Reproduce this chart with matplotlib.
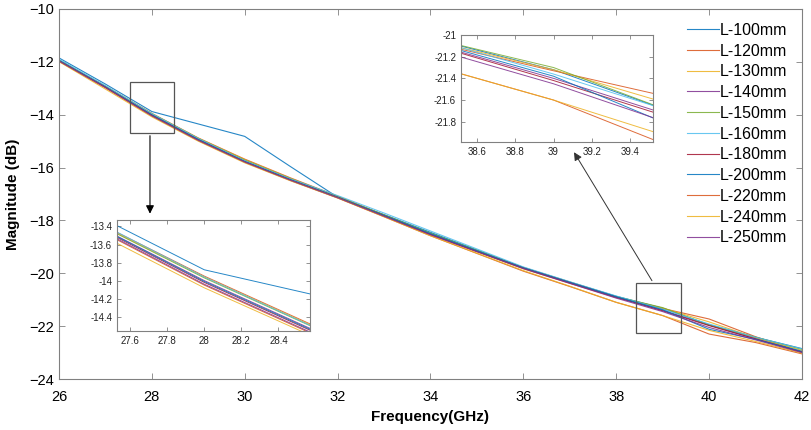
import numpy as np
import matplotlib
matplotlib.use('Agg')
import matplotlib.pyplot as plt
from matplotlib.patches import Rectangle

plt.rcParams['font.family'] = ['Liberation Sans', 'DejaVu Sans']

# ------------------------------------------------------------------
# Data (magnitude in dB, sampled every 1 GHz)
# ------------------------------------------------------------------
freq = [26, 27, 28, 29, 30, 31, 32, 33, 34, 35, 36, 37, 38, 39, 40, 41, 42]

labels = ['L-100mm', 'L-120mm', 'L-130mm', 'L-140mm', 'L-150mm', 'L-160mm',
          'L-180mm', 'L-200mm', 'L-220mm', 'L-240mm', 'L-250mm']

l100 = [-11.85, -12.84, -13.88, -14.35, -14.82, -15.98, -17.12, -17.78, -18.45,
        -19.12, -19.78, -20.33, -20.87, -21.32, -21.95, -22.42, -22.85]
l120 = [-11.93, -12.92, -13.95, -14.88, -15.68, -16.40, -17.08, -17.80, -18.52,
        -19.18, -19.83, -20.38, -20.92, -21.33, -21.73, -22.40, -22.98]
l130 = [-11.94, -12.93, -13.96, -14.89, -15.70, -16.42, -17.10, -17.82, -18.53,
        -19.18, -19.82, -20.36, -20.90, -21.32, -21.84, -22.44, -22.92]
l140 = [-11.95, -12.95, -14.00, -14.93, -15.76, -16.46, -17.12, -17.82, -18.52,
        -19.16, -19.80, -20.36, -20.90, -21.40, -21.96, -22.48, -22.98]
l150 = [-11.93, -12.93, -13.97, -14.90, -15.72, -16.43, -17.10, -17.79, -18.48,
        -19.13, -19.78, -20.33, -20.88, -21.30, -21.96, -22.42, -22.88]
l160 = [-11.90, -12.90, -13.96, -14.90, -15.74, -16.44, -17.06, -17.72, -18.40,
        -19.08, -19.76, -20.32, -20.86, -21.36, -21.92, -22.42, -22.86]
l180 = [-11.96, -12.96, -14.02, -14.95, -15.78, -16.48, -17.13, -17.83, -18.53,
        -19.17, -19.80, -20.35, -20.90, -21.42, -21.98, -22.48, -22.98]
l200 = [-11.95, -12.95, -14.01, -14.94, -15.77, -16.47, -17.12, -17.81, -18.50,
        -19.15, -19.80, -20.35, -20.89, -21.38, -22.12, -22.50, -22.95]
l220 = [-11.98, -12.98, -14.05, -14.98, -15.80, -16.50, -17.15, -17.86, -18.58,
        -19.25, -19.92, -20.50, -21.10, -21.60, -22.30, -22.62, -23.05]
l240 = [-11.99, -13.03, -14.08, -15.00, -15.82, -16.51, -17.15, -17.86, -18.58,
        -19.24, -19.90, -20.49, -21.10, -21.60, -22.16, -22.58, -23.02]
l250 = [-11.97, -12.97, -14.04, -14.97, -15.79, -16.49, -17.14, -17.84, -18.54,
        -19.18, -19.82, -20.38, -20.94, -21.45, -22.05, -22.52, -23.00]

series = [l100, l120, l130, l140, l150, l160, l180, l200, l220, l240, l250]

# MATLAB default colour order (repeats after 7)
colors = ['#0072BD', '#D95319', '#EDB120', '#7E2F8E', '#77AC30', '#4DBEEE',
          '#A2142F', '#0072BD', '#D95319', '#EDB120', '#7E2F8E']

# zoom windows
zoom1_x = (27.53, 28.57)
zoom1_y = (-14.56, -13.33)
zoom2_x = (38.515, 39.52)
zoom2_y = (-21.99, -21.0)

SPINE = '#808080'


def style_axes(ax, size):
    for s in ax.spines.values():
        s.set_color(SPINE)
        s.set_linewidth(0.8)
    ax.tick_params(direction='in', top=True, right=True, colors=SPINE,
                   labelcolor='#222222', labelsize=size, length=3, width=0.6)


fig = plt.figure(figsize=(8.11, 4.30), dpi=100)

# ------------------------------------------------------------------
# Main axes
# ------------------------------------------------------------------
ax = fig.add_axes([0.0727, 0.1186, 0.9162, 0.8605])
for y, lab, c in zip(series, labels, colors):
    ax.plot(freq, y, color=c, lw=0.8, alpha=0.85, label=lab)
ax.set_xlim(26, 42)
ax.set_ylim(-24, -10)
ax.set_xticks(range(26, 43, 2))
ax.set_yticks(range(-24, -9, 2))
style_axes(ax, 10.5)
ax.tick_params(length=4, labelcolor='black')
ax.tick_params(axis='x', pad=8)
ax.set_xlabel('Frequency(GHz)', fontsize=11, fontweight='bold', labelpad=4)
ax.set_ylabel('Magnitude (dB)', fontsize=11, fontweight='bold', labelpad=7)

leg = ax.legend(loc='upper right', bbox_to_anchor=(0.995, 0.993), fontsize=11.5,
                frameon=True, handlelength=2.0, handletextpad=0.05,
                labelspacing=0.36, borderpad=0.2)
leg.get_frame().set_edgecolor('white')
leg.get_frame().set_alpha(1.0)

# zoom boxes on the main plot
for xr, yr in [((27.52, 28.48), (-14.69, -12.76)),
               ((38.43, 39.40), (-22.26, -20.37))]:
    ax.add_patch(Rectangle((xr[0], yr[0]), xr[1] - xr[0], yr[1] - yr[0],
                           fill=False, edgecolor='#555555', lw=0.9, zorder=5))

ax.annotate('', xy=(27.96, -17.85), xytext=(27.96, -14.69),
            arrowprops=dict(arrowstyle='-|>', color='black', lw=0.8,
                            mutation_scale=12))
ax.annotate('', xy=(37.06, -15.33), xytext=(38.80, -20.37),
            arrowprops=dict(arrowstyle='-|>', color='#333333', lw=0.7,
                            mutation_scale=12))

# ------------------------------------------------------------------
# Inset 1 (around 28 GHz)
# ------------------------------------------------------------------
ax1 = fig.add_axes([0.1443, 0.230, 0.238, 0.258])
for y, c in zip(series, colors):
    ax1.plot(freq, y, color=c, lw=0.7, alpha=0.85)
ax1.set_xlim(*zoom1_x)
ax1.set_ylim(*zoom1_y)
ax1.set_xticks([27.6, 27.8, 28, 28.2, 28.4])
ax1.set_xticklabels(['27.6', '27.8', '28', '28.2', '28.4'])
ax1.set_yticks([-14.4, -14.2, -14.0, -13.8, -13.6, -13.4])
ax1.set_yticklabels(['-14.4', '-14.2', '-14', '-13.8', '-13.6', '-13.4'])
style_axes(ax1, 7)

# ------------------------------------------------------------------
# Inset 2 (around 39 GHz)
# ------------------------------------------------------------------
ax2 = fig.add_axes([0.5684, 0.669, 0.2367, 0.2495])
for y, c in zip(series, colors):
    ax2.plot(freq, y, color=c, lw=0.7, alpha=0.85)
ax2.set_xlim(*zoom2_x)
ax2.set_ylim(*zoom2_y)
ax2.set_xticks([38.6, 38.8, 39, 39.2, 39.4])
ax2.set_xticklabels(['38.6', '38.8', '39', '39.2', '39.4'])
ax2.set_yticks([-21.8, -21.6, -21.4, -21.2, -21.0])
ax2.set_yticklabels(['-21.8', '-21.6', '-21.4', '-21.2', '-21'])
style_axes(ax2, 7)

fig.savefig('out.png', dpi=100)
